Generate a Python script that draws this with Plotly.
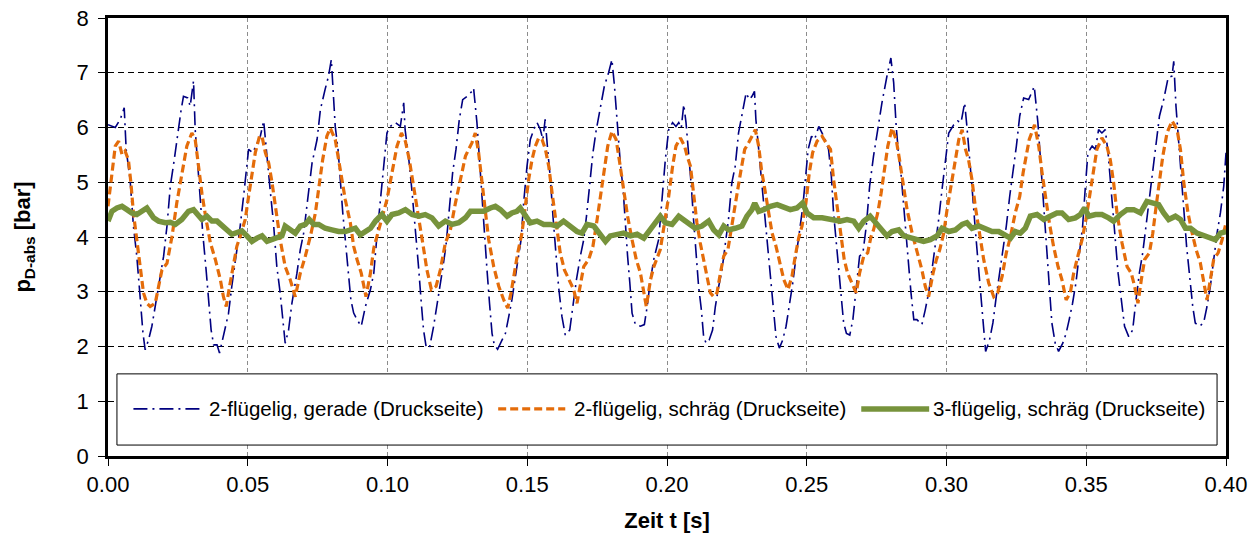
import plotly.graph_objects as go

# --- Messdaten: Druck auf der Druckseite über der Zeit ---------------------

# 2-flügelig, gerade
t_gerade = [
    0.0000, 0.0026, 0.0044, 0.0058, 0.0065, 0.0079, 0.0091, 0.0103, 0.0115, 0.0125,
    0.0133, 0.0145, 0.0157, 0.0169, 0.0184, 0.0199, 0.0211, 0.0223, 0.0237, 0.0249,
    0.0261, 0.0270, 0.0285, 0.0294, 0.0306, 0.0312, 0.0320, 0.0330, 0.0339, 0.0351,
    0.0360, 0.0369, 0.0378, 0.0390, 0.0399, 0.0416, 0.0431, 0.0443, 0.0455, 0.0473,
    0.0485, 0.0497, 0.0503, 0.0518, 0.0533, 0.0545, 0.0557, 0.0566, 0.0580, 0.0592,
    0.0604, 0.0616, 0.0626,
    0.0634, 0.0646, 0.0658, 0.0676, 0.0688, 0.0700, 0.0718, 0.0730, 0.0748, 0.0760,
    0.0777, 0.0789, 0.0799, 0.0807, 0.0813, 0.0823, 0.0831, 0.0840, 0.0849, 0.0859,
    0.0869, 0.0879, 0.0891, 0.0906, 0.0921, 0.0939, 0.0951, 0.0962, 0.0974, 0.0986,
    0.0998, 0.1010, 0.1028, 0.1046, 0.1058, 0.1063, 0.1075, 0.1087, 0.1099, 0.1111,
    0.1121, 0.1129, 0.1138, 0.1150, 0.1165, 0.1181, 0.1195, 0.1209, 0.1221, 0.1233,
    0.1245, 0.1257, 0.1269, 0.1285, 0.1302,
    0.1308, 0.1320, 0.1330, 0.1338, 0.1346, 0.1356, 0.1365, 0.1374, 0.1382, 0.1394,
    0.1410, 0.1422, 0.1434, 0.1445, 0.1463, 0.1478, 0.1487, 0.1499, 0.1511, 0.1523,
    0.1535, 0.1547, 0.1556, 0.1564, 0.1573, 0.1583, 0.1592, 0.1602, 0.1612, 0.1624,
    0.1636, 0.1652, 0.1664, 0.1676, 0.1690, 0.1702, 0.1712, 0.1724, 0.1735, 0.1747,
    0.1762, 0.1776, 0.1791, 0.1803, 0.1812, 0.1821, 0.1833, 0.1843, 0.1851, 0.1859,
    0.1867, 0.1875, 0.1887, 0.1905, 0.1919, 0.1929, 0.1941, 0.1953,
    0.1970, 0.1982, 0.1994, 0.2006, 0.2020, 0.2032, 0.2042, 0.2051, 0.2060, 0.2068,
    0.2078, 0.2087, 0.2095, 0.2104, 0.2113, 0.2123, 0.2131, 0.2140, 0.2151, 0.2163,
    0.2173, 0.2185, 0.2197, 0.2209, 0.2220, 0.2232, 0.2244, 0.2256, 0.2271, 0.2283,
    0.2295, 0.2304, 0.2313, 0.2318, 0.2328, 0.2338, 0.2346, 0.2354, 0.2364, 0.2373,
    0.2382, 0.2390, 0.2402, 0.2414, 0.2426, 0.2438, 0.2450, 0.2462, 0.2474, 0.2486,
    0.2495, 0.2505, 0.2517, 0.2528, 0.2543, 0.2555, 0.2566, 0.2578, 0.2588, 0.2596,
    0.2605, 0.2614, 0.2624, 0.2632,
    0.2642, 0.2654, 0.2665, 0.2677, 0.2689, 0.2701, 0.2713, 0.2725, 0.2739, 0.2754,
    0.2769, 0.2787, 0.2801, 0.2811, 0.2820, 0.2829, 0.2837, 0.2847, 0.2856, 0.2865,
    0.2873, 0.2883, 0.2894, 0.2912, 0.2924, 0.2936, 0.2948, 0.2960, 0.2972, 0.2984,
    0.2996, 0.3008, 0.3026, 0.3040, 0.3052, 0.3065, 0.3073, 0.3083, 0.3092, 0.3102,
    0.3112, 0.3121, 0.3131, 0.3140, 0.3154, 0.3166, 0.3178, 0.3190, 0.3202, 0.3214,
    0.3226, 0.3238, 0.3250, 0.3262, 0.3276, 0.3294,
    0.3314, 0.3327, 0.3336, 0.3344, 0.3351, 0.3360, 0.3368, 0.3377, 0.3389, 0.3401,
    0.3416, 0.3428, 0.3439, 0.3451, 0.3463, 0.3475, 0.3487, 0.3497, 0.3506, 0.3521,
    0.3533, 0.3544, 0.3556, 0.3568, 0.3578, 0.3586, 0.3595, 0.3604, 0.3614, 0.3626,
    0.3637, 0.3652, 0.3666, 0.3678, 0.3690, 0.3702, 0.3714, 0.3726, 0.3738, 0.3750,
    0.3762, 0.3777, 0.3793, 0.3807, 0.3813, 0.3821, 0.3831, 0.3840, 0.3850, 0.3859,
    0.3869, 0.3881, 0.3890, 0.3905, 0.3920, 0.3932, 0.3944, 0.3956, 0.3968, 0.3980,
    0.3992, 0.4000,
]
p_gerade = [
    6.05, 6.00, 6.15, 6.36, 5.60, 5.05, 4.20, 3.65, 2.90, 2.25,
    1.94, 2.12, 2.37, 2.73, 3.22, 3.65, 4.20, 4.93, 5.41, 5.90,
    6.30, 6.57, 6.54, 6.39, 6.85, 5.96, 5.35, 4.74, 4.07, 3.40,
    2.91, 2.30, 2.03, 2.03, 1.88, 2.24, 2.60, 3.10, 3.52, 4.20,
    4.74, 5.41, 5.60, 5.54, 5.72, 5.84, 6.12, 5.60, 4.87, 4.26,
    3.46, 2.98, 2.49,
    2.06, 2.30, 2.79, 3.34, 3.77, 4.07, 4.87, 5.35, 5.78, 6.33,
    6.70, 6.94, 7.24, 6.63, 6.02, 5.60, 4.99, 4.44, 3.95, 3.34,
    2.85, 2.61, 2.49, 2.37, 2.73, 3.04, 3.34, 4.01, 4.68, 5.29,
    5.90, 6.02, 6.09, 6.02, 6.45, 5.96, 5.48, 4.87, 4.20, 3.46,
    2.79, 2.30, 2.00, 1.97, 2.37, 2.85, 3.34, 3.83, 4.56, 5.17,
    5.60, 6.15, 6.51, 6.57, 6.66,
    6.72, 6.09, 5.29, 4.68, 4.13, 3.40, 2.79, 2.24, 2.03, 1.95,
    2.12, 2.24, 2.55, 2.85, 3.46, 3.95, 4.62, 5.29, 5.78, 5.96,
    6.09, 5.96, 5.78, 6.15, 5.60, 5.05, 4.38, 3.71, 3.10, 2.55,
    2.21, 2.30, 2.79, 3.22, 3.65, 3.95, 4.38, 5.05, 5.54, 5.96,
    6.39, 6.76, 7.00, 7.24, 6.76, 6.09, 5.35, 4.87, 4.20, 3.65,
    3.16, 2.61, 2.40, 2.37, 2.40, 2.73, 3.22, 3.60,
    3.95, 4.68, 5.41, 5.96, 6.09, 6.02, 6.09, 5.99, 6.42, 6.09,
    5.54, 4.93, 4.32, 3.71, 3.10, 2.67, 2.18, 2.06, 2.12, 2.30,
    2.73, 3.10, 3.40, 3.89, 4.32, 4.99, 5.29, 5.90, 6.33, 6.63,
    6.51, 6.57, 6.66, 6.15, 5.60, 5.05, 4.56, 4.07, 3.59, 2.98,
    2.49, 2.18, 1.97, 2.12, 2.37, 2.73, 3.16, 3.65, 4.07, 4.56,
    5.05, 5.60, 5.84, 5.78, 6.02, 5.90, 5.78, 5.60, 5.11, 4.44,
    3.95, 3.34, 2.79, 2.43,
    2.24, 2.21, 2.49, 3.10, 3.65, 3.71, 4.20, 4.93, 5.48, 5.96,
    6.45, 6.94, 7.27, 6.82, 6.02, 5.48, 5.17, 4.56, 3.95, 3.46,
    2.98, 2.49, 2.49, 2.40, 2.67, 2.98, 3.40, 3.83, 4.32, 4.87,
    5.41, 5.90, 6.05, 6.12, 6.09, 6.45, 6.02, 5.48, 4.87, 4.20,
    3.59, 2.98, 2.43, 1.91, 2.12, 2.43, 2.91, 3.34, 3.83, 4.20,
    4.74, 5.17, 5.66, 6.21, 6.54, 6.51,
    6.75, 6.09, 5.41, 4.80, 4.20, 3.59, 2.98, 2.43, 2.06, 1.91,
    2.06, 2.24, 2.49, 2.79, 3.16, 3.71, 4.20, 4.93, 5.54, 5.66,
    5.60, 5.96, 5.90, 5.96, 5.54, 5.05, 4.56, 3.95, 3.34, 2.79,
    2.37, 2.18, 2.30, 2.85, 3.34, 3.71, 4.20, 4.80, 5.29, 5.78,
    6.21, 6.51, 6.91, 6.94, 7.21, 6.39, 5.66, 5.05, 4.44, 3.83,
    3.28, 2.73, 2.43, 2.37, 2.43, 2.73, 3.10, 3.59, 4.07, 4.44,
    4.93, 5.54,
]

# 2-flügelig, schräg
t_schraeg2 = [
    0.0000, 0.0014, 0.0026, 0.0038, 0.0050, 0.0061, 0.0073, 0.0082, 0.0091, 0.0103,
    0.0115, 0.0127, 0.0139, 0.0151, 0.0169, 0.0181, 0.0193, 0.0211, 0.0229, 0.0246,
    0.0264, 0.0282, 0.0300, 0.0312, 0.0324, 0.0336, 0.0351, 0.0366, 0.0384, 0.0402,
    0.0413, 0.0423, 0.0435, 0.0447, 0.0461, 0.0473, 0.0491, 0.0503, 0.0515, 0.0527,
    0.0542, 0.0551, 0.0563, 0.0575, 0.0587, 0.0599, 0.0616,
    0.0634, 0.0652, 0.0670, 0.0688, 0.0706, 0.0724, 0.0742, 0.0754, 0.0768, 0.0783,
    0.0795, 0.0813, 0.0825, 0.0837, 0.0849, 0.0867, 0.0879, 0.0891, 0.0906, 0.0923,
    0.0939, 0.0951, 0.0966, 0.0980, 0.0998, 0.1016, 0.1034, 0.1050, 0.1064, 0.1078,
    0.1094, 0.1112, 0.1126, 0.1141, 0.1157, 0.1174, 0.1189, 0.1207, 0.1225, 0.1243,
    0.1261, 0.1279, 0.1302,
    0.1314, 0.1326, 0.1338, 0.1350, 0.1362, 0.1380, 0.1398, 0.1416, 0.1430, 0.1442,
    0.1454, 0.1466, 0.1481, 0.1493, 0.1505, 0.1517, 0.1529, 0.1541, 0.1553, 0.1565,
    0.1577, 0.1589, 0.1604, 0.1618, 0.1633, 0.1648, 0.1666, 0.1678, 0.1690, 0.1702,
    0.1720, 0.1735, 0.1750, 0.1764, 0.1776, 0.1788, 0.1803, 0.1818, 0.1831, 0.1845,
    0.1859, 0.1875, 0.1890, 0.1905, 0.1917, 0.1926, 0.1941, 0.1953,
    0.1976, 0.1992, 0.2006, 0.2020, 0.2032, 0.2048, 0.2063, 0.2072, 0.2084, 0.2095,
    0.2107, 0.2119, 0.2131, 0.2143, 0.2155, 0.2167, 0.2179, 0.2191, 0.2203, 0.2218,
    0.2233, 0.2247, 0.2263, 0.2278, 0.2292, 0.2304, 0.2316, 0.2328, 0.2338, 0.2350,
    0.2361, 0.2376, 0.2390, 0.2406, 0.2418, 0.2433, 0.2447, 0.2459, 0.2471, 0.2483,
    0.2497, 0.2509, 0.2521, 0.2537, 0.2555, 0.2569, 0.2585, 0.2596, 0.2608,
    0.2620, 0.2634, 0.2646, 0.2662, 0.2677, 0.2689, 0.2704, 0.2718, 0.2730, 0.2739,
    0.2754, 0.2766, 0.2778, 0.2790, 0.2805, 0.2820, 0.2832, 0.2844, 0.2859, 0.2877,
    0.2894, 0.2912, 0.2924, 0.2936, 0.2952, 0.2964, 0.2976, 0.2990, 0.3002, 0.3016,
    0.3032, 0.3044, 0.3056, 0.3068, 0.3079, 0.3091, 0.3103, 0.3119, 0.3133, 0.3151,
    0.3169, 0.3183, 0.3199, 0.3214, 0.3229, 0.3246, 0.3262, 0.3274,
    0.3296, 0.3315, 0.3330, 0.3342, 0.3354, 0.3368, 0.3383, 0.3399, 0.3413, 0.3428,
    0.3443, 0.3455, 0.3467, 0.3485, 0.3499, 0.3511, 0.3523, 0.3538, 0.3556, 0.3574,
    0.3586, 0.3598, 0.3610, 0.3628, 0.3646, 0.3661, 0.3673, 0.3685, 0.3697, 0.3709,
    0.3726, 0.3738, 0.3750, 0.3762, 0.3774, 0.3789, 0.3807, 0.3825, 0.3837, 0.3849,
    0.3864, 0.3879, 0.3893, 0.3908, 0.3920, 0.3932, 0.3944, 0.3956, 0.3972, 0.3986,
    0.4000,
]
p_schraeg2 = [
    4.56, 5.17, 5.66, 5.75, 5.51, 5.57, 5.41, 4.99, 4.44, 3.95,
    3.40, 2.98, 2.79, 2.73, 2.79, 3.10, 3.40, 3.52, 4.01, 4.62,
    5.17, 5.66, 5.90, 5.78, 5.29, 4.80, 4.32, 3.90, 3.59, 3.22,
    2.91, 2.73, 3.10, 3.46, 3.83, 4.01, 4.32, 4.74, 5.17, 5.54,
    5.84, 5.84, 5.54, 5.35, 4.99, 4.56, 3.95,
    3.46, 3.22, 2.91, 3.34, 3.65, 4.01, 4.44, 4.93, 5.41, 5.84,
    5.99, 5.78, 5.41, 5.05, 4.68, 4.26, 3.83, 3.59, 3.34, 2.91,
    3.34, 3.80, 4.07, 4.32, 4.68, 5.17, 5.66, 5.90, 5.75, 5.41,
    4.93, 4.38, 3.89, 3.40, 3.04, 3.10, 3.40, 3.89, 4.13, 4.62,
    5.05, 5.48, 5.72,
    5.90, 5.54, 4.99, 4.44, 3.95, 3.46, 3.10, 2.85, 2.70, 2.98,
    3.34, 3.71, 4.07, 4.56, 5.05, 5.41, 5.66, 5.81, 5.78, 5.60,
    5.29, 4.80, 4.20, 3.71, 3.40, 3.22, 3.04, 2.79, 3.10, 3.46,
    3.59, 3.83, 4.32, 4.80, 5.23, 5.66, 5.93, 5.78, 5.35, 4.87,
    4.38, 3.95, 3.59, 3.34, 2.98, 2.73, 3.22, 3.46,
    3.77, 4.26, 4.74, 5.29, 5.66, 5.81, 5.66, 5.48, 5.29, 4.80,
    4.26, 3.89, 3.59, 3.28, 2.98, 2.91, 2.98, 3.34, 3.65, 3.77,
    4.20, 4.68, 5.17, 5.60, 5.72, 5.84, 5.96, 5.66, 5.23, 4.87,
    4.50, 4.07, 3.83, 3.46, 3.22, 3.04, 3.28, 3.65, 3.98, 4.20,
    4.62, 5.17, 5.54, 5.75, 5.84, 5.72, 5.60, 5.05, 4.56,
    4.07, 3.59, 3.34, 3.16, 2.98, 3.34, 3.65, 3.71, 4.01, 4.13,
    4.44, 4.80, 5.23, 5.66, 5.99, 5.78, 5.41, 4.99, 4.50, 4.07,
    3.77, 3.40, 3.10, 2.91, 3.34, 3.59, 3.77, 4.07, 4.50, 4.93,
    5.35, 5.78, 5.96, 5.60, 5.41, 5.05, 4.56, 4.01, 3.59, 3.16,
    2.91, 2.98, 3.28, 3.71, 4.01, 4.44, 4.74, 5.17,
    5.78, 6.05, 5.66, 5.17, 4.74, 4.26, 3.83, 3.46, 3.22, 2.85,
    2.98, 3.34, 3.59, 3.95, 4.32, 4.74, 5.17, 5.60, 5.81, 5.66,
    5.41, 4.99, 4.44, 3.89, 3.46, 3.34, 3.10, 2.79, 3.22, 3.59,
    3.71, 4.07, 4.56, 5.05, 5.48, 5.90, 6.12, 5.96, 5.60, 4.99,
    4.44, 4.07, 3.77, 3.53, 3.22, 2.85, 3.22, 3.59, 3.71, 3.95,
    4.26,
]

# 3-flügelig, schräg
t_schraeg3 = [
    0.0000, 0.0014, 0.0032, 0.0050, 0.0068, 0.0085, 0.0103, 0.0121, 0.0139, 0.0151,
    0.0163, 0.0181, 0.0205, 0.0223, 0.0241, 0.0264, 0.0288, 0.0306, 0.0324, 0.0336,
    0.0354, 0.0372, 0.0390, 0.0408, 0.0426, 0.0443, 0.0461, 0.0479, 0.0497, 0.0515,
    0.0533, 0.0551, 0.0569, 0.0587, 0.0604, 0.0622,
    0.0634, 0.0652, 0.0670, 0.0688, 0.0706, 0.0720, 0.0736, 0.0754, 0.0777, 0.0801,
    0.0825, 0.0849, 0.0867, 0.0885, 0.0903, 0.0921, 0.0939, 0.0957, 0.0980, 0.0998,
    0.1016, 0.1040, 0.1064, 0.1088, 0.1112, 0.1135, 0.1159, 0.1183, 0.1207, 0.1231,
    0.1255, 0.1279, 0.1297,
    0.1320, 0.1344, 0.1368, 0.1386, 0.1404, 0.1428, 0.1445, 0.1463, 0.1475, 0.1493,
    0.1511, 0.1535, 0.1559, 0.1583, 0.1607, 0.1630, 0.1654, 0.1678, 0.1696, 0.1714,
    0.1738, 0.1756, 0.1780, 0.1797, 0.1821, 0.1845, 0.1869, 0.1893, 0.1917, 0.1941,
    0.1958,
    0.1976, 0.1994, 0.2018, 0.2042, 0.2060, 0.2078, 0.2101, 0.2125, 0.2149, 0.2167,
    0.2185, 0.2203, 0.2220, 0.2244, 0.2268, 0.2286, 0.2304, 0.2314, 0.2328, 0.2346,
    0.2370, 0.2394, 0.2418, 0.2441, 0.2465, 0.2485, 0.2501, 0.2525, 0.2555, 0.2585,
    0.2608,
    0.2620, 0.2644, 0.2668, 0.2686, 0.2704, 0.2727, 0.2745, 0.2763, 0.2787, 0.2805,
    0.2829, 0.2847, 0.2871, 0.2894, 0.2918, 0.2942, 0.2966, 0.2984, 0.3008, 0.3032,
    0.3056, 0.3073, 0.3091, 0.3115, 0.3139, 0.3163, 0.3187, 0.3211, 0.3229, 0.3246,
    0.3264, 0.3282,
    0.3300, 0.3324, 0.3348, 0.3371, 0.3395, 0.3413, 0.3437, 0.3461, 0.3479, 0.3494,
    0.3509, 0.3533, 0.3556, 0.3580, 0.3598, 0.3622, 0.3646, 0.3670, 0.3694, 0.3717,
    0.3741, 0.3759, 0.3777, 0.3795, 0.3819, 0.3837, 0.3855, 0.3873, 0.3896, 0.3920,
    0.3944, 0.3962, 0.3980, 0.4000,
]
p_schraeg3 = [
    4.29, 4.47, 4.53, 4.56, 4.50, 4.44, 4.41, 4.47, 4.53, 4.44,
    4.35, 4.29, 4.26, 4.27, 4.23, 4.32, 4.47, 4.50, 4.41, 4.32,
    4.38, 4.29, 4.29, 4.20, 4.11, 4.05, 4.08, 4.11, 4.02, 3.92,
    3.98, 4.02, 3.92, 3.95, 3.98, 4.02,
    4.20, 4.13, 4.07, 4.20, 4.23, 4.32, 4.23, 4.23, 4.16, 4.13,
    4.10, 4.10, 4.13, 4.16, 4.04, 4.10, 4.16, 4.29, 4.41, 4.29,
    4.41, 4.44, 4.50, 4.41, 4.38, 4.41, 4.35, 4.20, 4.29, 4.23,
    4.26, 4.35, 4.47,
    4.47, 4.47, 4.53, 4.56, 4.50, 4.38, 4.44, 4.47, 4.53, 4.38,
    4.26, 4.29, 4.23, 4.23, 4.20, 4.29, 4.20, 4.10, 4.07, 4.23,
    4.20, 4.07, 3.92, 4.02, 4.05, 4.07, 4.02, 4.05, 3.98, 4.13,
    4.23,
    4.38, 4.26, 4.23, 4.38, 4.32, 4.26, 4.16, 4.20, 4.29, 4.13,
    4.04, 4.20, 4.13, 4.16, 4.20, 4.38, 4.50, 4.62, 4.47, 4.50,
    4.56, 4.59, 4.53, 4.50, 4.53, 4.62, 4.44, 4.35, 4.35, 4.32,
    4.29,
    4.29, 4.32, 4.29, 4.16, 4.29, 4.38, 4.26, 4.16, 4.02, 4.10,
    4.13, 4.02, 3.98, 3.95, 3.92, 3.95, 4.02, 4.16, 4.10, 4.13,
    4.23, 4.26, 4.16, 4.20, 4.16, 4.10, 4.10, 4.04, 3.98, 4.10,
    4.07, 4.16,
    4.38, 4.41, 4.32, 4.38, 4.44, 4.44, 4.32, 4.35, 4.41, 4.53,
    4.38, 4.41, 4.41, 4.35, 4.29, 4.41, 4.50, 4.50, 4.44, 4.65,
    4.62, 4.59, 4.44, 4.32, 4.38, 4.32, 4.16, 4.16, 4.07, 4.02,
    3.98, 3.95, 4.07, 4.10,
]

assert len(t_gerade) == len(p_gerade)
assert len(t_schraeg2) == len(p_schraeg2)
assert len(t_schraeg3) == len(p_schraeg3)

series_names = [
    "2-flügelig, gerade (Druckseite)",
    "2-flügelig, schräg (Druckseite)",
    "3-flügelig, schräg (Druckseite)",
]
x_ticks = [0.00, 0.05, 0.10, 0.15, 0.20, 0.25, 0.30, 0.35, 0.40]
y_ticks = [0, 1, 2, 3, 4, 5, 6, 7, 8]

# --- Darstellung ------------------------------------------------------------
FONT = "Liberation Sans, Arial, sans-serif"
C_BLUE = "#000080"
C_ORANGE = "#E46C0A"
C_GREEN = "#77933C"

styles = [
    dict(color=C_BLUE, width=1.6, dash="14px,5px,2px,5px"),
    dict(color=C_ORANGE, width=3.2, dash="8px,4px"),
    dict(color=C_GREEN, width=5.5, dash="solid"),
]

fig = go.Figure()
for (tx, py), name, st in zip(
    [(t_gerade, p_gerade), (t_schraeg2, p_schraeg2), (t_schraeg3, p_schraeg3)],
    series_names, styles,
):
    fig.add_trace(go.Scatter(x=tx, y=py, mode="lines", name=name,
                             line=st, showlegend=False))

# Legendenrahmen innerhalb des Diagramms (deckt die Gitterlinien ab)
fig.add_shape(type="rect", xref="x", yref="y", x0=0.0032, x1=0.3968, y0=0.20, y1=1.50,
              line=dict(color="black", width=1), fillcolor="white", layer="above")

legend_y = 0.86
legend_items = [
    (0.0091, 0.0330, 0.0355),
    (0.1396, 0.1636, 0.1661),
    (0.2695, 0.2938, 0.2945),
]
for (xs0, xs1, xt), name, st in zip(legend_items, series_names, styles):
    fig.add_shape(type="line", xref="x", yref="y", x0=xs0, x1=xs1, y0=legend_y, y1=legend_y,
                  line=st, layer="above")
    fig.add_annotation(x=xt, y=legend_y, xref="x", yref="y", text=name, showarrow=False,
                       xanchor="left", yanchor="middle",
                       font=dict(family=FONT, size=20.5, color="black"))

fig.update_layout(
    width=1260, height=533,
    margin=dict(l=108, r=34, t=18, b=77),
    paper_bgcolor="white", plot_bgcolor="white",
    font=dict(family=FONT, size=22, color="black"),
    showlegend=False,
)
fig.update_xaxes(
    range=[0, 0.4], tickvals=x_ticks, ticktext=[f"{v:.2f}" for v in x_ticks],
    showgrid=True, gridcolor="#8c8c8c", gridwidth=1, griddash="4px,3px",
    showline=True, linecolor="black", linewidth=2.5, mirror=True,
    ticks="outside", ticklen=7, tickcolor="black", tickwidth=1,
    zeroline=False, tickfont=dict(size=22), automargin=False,
    title=dict(text="<b>Zeit t [s]</b>", font=dict(size=22), standoff=17),
)
fig.update_yaxes(
    range=[0, 8], tickvals=y_ticks,
    showgrid=True, gridcolor="black", gridwidth=1, griddash="6px,4px",
    showline=True, linecolor="black", linewidth=2.5, mirror=True,
    ticks="outside", ticklen=7, tickcolor="black", tickwidth=1,
    zeroline=False, tickfont=dict(size=22), ticklabelstandoff=5, automargin=False,
    title=dict(text="<b>p<sub>D-abs</sub> [bar]</b>", font=dict(size=22), standoff=40),
)

fig.write_html("out.html")
